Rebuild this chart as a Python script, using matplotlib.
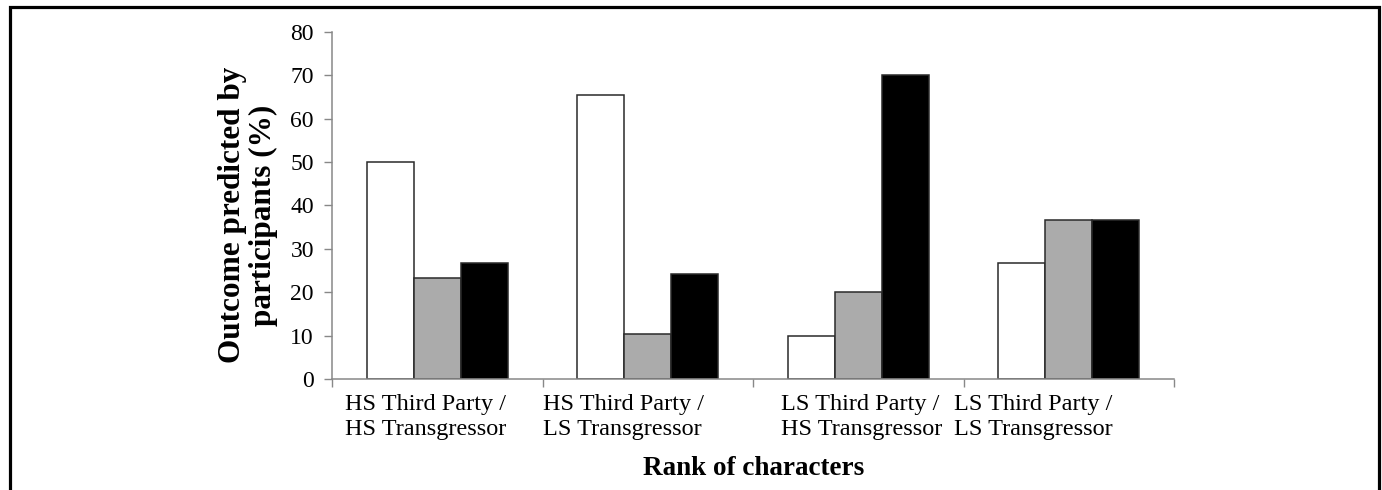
import matplotlib
matplotlib.use("Agg")
import matplotlib.pyplot as plt
import numpy as np
from matplotlib.patches import Rectangle
from matplotlib.transforms import ScaledTranslation

categories = ["HS Third Party /\nHS Transgressor",
              "HS Third Party /\nLS Transgressor",
              "LS Third Party /\nHS Transgressor",
              "LS Third Party /\nLS Transgressor"]
series_white = [50.0, 65.5, 10.0, 26.7]
series_gray = [23.3, 10.3, 20.0, 36.7]
series_black = [26.7, 24.1, 70.0, 36.7]
yticks = [0, 10, 20, 30, 40, 50, 60, 70, 80]

plt.rcParams['font.family'] = ['Liberation Serif', 'DejaVu Serif']

W, H = 1382, 490
fig = plt.figure(figsize=(W / 100, H / 100), dpi=100)
ax = fig.add_axes([332 / W, 1 - 379 / H, (1174 - 332) / W, (379 - 32) / H])

x = np.arange(len(categories))
bw = 0.223
edge = '#2a2a2a'
for off, vals, col in [(-bw, series_white, 'white'),
                       (0.0, series_gray, '#ababab'),
                       (bw, series_black, 'black')]:
    ax.bar(x + off, vals, width=bw, color=col, edgecolor=edge, linewidth=1.1)

ax.set_xlim(-0.5, len(categories) - 0.5)
ax.set_ylim(0, 80)
ax.set_yticks(yticks)
ax.set_yticklabels([str(t) for t in yticks], fontsize=17)

ax.set_xticks(x)
ax.set_xticklabels(categories, fontsize=17.5, multialignment='left', linespacing=1.28)
ax.set_xticks(np.arange(-0.5, len(categories), 1.0), minor=True)
ax.tick_params(axis='x', which='major', length=0, pad=10.5)
ax.tick_params(axis='x', which='minor', length=6, width=1, color='#888888', direction='out')
ax.tick_params(axis='y', length=6, width=1, color='#888888', direction='out', pad=7)

offsets = [-12, -24, 3, -35]
for lab, dx in zip(ax.get_xticklabels(), offsets):
    lab.set_transform(lab.get_transform() + ScaledTranslation(dx / 100, 0, fig.dpi_scale_trans))

for s in ['top', 'right']:
    ax.spines[s].set_visible(False)
for s in ['left', 'bottom']:
    ax.spines[s].set_color('#888888')
    ax.spines[s].set_linewidth(1.1)

fig.text(248 / W, 1 - 215 / H, "Outcome predicted by\nparticipants (%)",
         rotation=90, ha='center', va='center', fontsize=22.5,
         fontweight='bold', linespacing=1.05)
fig.text(754 / W, 1 - 475 / H, "Rank of characters", ha='center',
         va='baseline', fontsize=19.5, fontweight='bold')

fig.patches.append(Rectangle((10 / W, -0.2), (1379 - 10) / W, 1.2 - 7 / H,
                             transform=fig.transFigure, fill=False,
                             edgecolor='black', linewidth=2.3))

fig.savefig("out.png", dpi=100)
